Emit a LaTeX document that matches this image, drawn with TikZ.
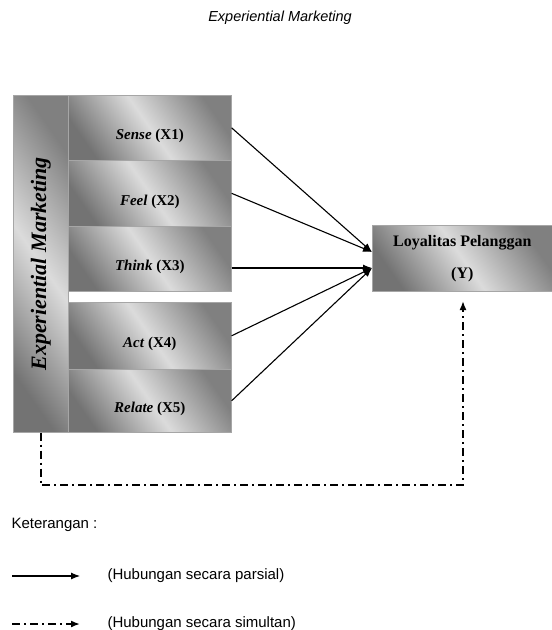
\documentclass[tikz,border=0pt]{standalone}
\usepackage{fontspec}
\setmainfont{Liberation Serif}
\newfontfamily\arialfont{Liberation Sans}
\usetikzlibrary{
    arrows.meta,
    positioning
}
\newcommand{\dimtext}[1]{\raisebox{-12pt}[0pt][0pt]{#1}}

\begin{document}
\begin{tikzpicture}[x=1pt, y=-1pt,
    shadebox/.style={draw=gray!70, line width=0.6pt, left color=black!55, right color=black!50,
        middle color=black!14, shading angle=125, inner sep=0pt, anchor=north west},
    dim/.style={shadebox, minimum width=163pt, font=\fontsize{15}{17}\selectfont\bfseries},
    parsial/.style={line width=1.1pt, -{Latex[length=9pt,width=7pt]}},
    simultan/.style={line width=1.7pt, dash pattern=on 8pt off 4pt on 2pt off 4pt,
        -{Latex[length=9pt,width=7pt]}},
    legendtext/.style={anchor=west, font=\arialfont\fontsize{15}{17}\selectfont}
]
    \useasboundingbox (0,0) rectangle (552,630);

    \node[font=\arialfont\itshape\fontsize{14.5}{16}\selectfont] (title) at (280,18) {Experiential Marketing};

    % variabel bebas
    \node[shadebox, minimum width=55pt, minimum height=337pt] (em) at (13,95) {};
    \node[rotate=90, font=\fontsize{22}{24}\selectfont\bfseries\itshape] (emtext) at (em.center) {Experiential Marketing};

    \node[dim, minimum height=65pt] (x1) at (68,95) {\dimtext{\textit{Sense} (X1)}};
    \node[dim, minimum height=66pt] (x2) at (68,160) {\dimtext{\textit{Feel} (X2)}};
    \node[dim, minimum height=65pt] (x3) at (68,226) {\dimtext{\textit{Think} (X3)}};
    \node[dim, minimum height=67pt] (x4) at (68,302) {\dimtext{\textit{Act} (X4)}};
    \node[dim, minimum height=63pt] (x5) at (68,369) {\dimtext{\textit{Relate} (X5)}};

    % variabel terikat
    \node[shadebox, minimum width=180pt, minimum height=66pt, align=center,
        font=\fontsize{16}{17}\selectfont\bfseries] (y) at (372,225) {Loyalitas Pelanggan\\[15pt](Y)};

    \coordinate (tipa) at (372,252);
    \coordinate (tipb) at (372,268);
    \coordinate (corner) at (463,485);
    \coordinate (tipy) at (463,301);

    \draw
    (x1.east) edge[parsial] (tipa)
    (x2.east) edge[parsial] (tipa)
    (x3.east |- tipb) edge[parsial] (tipb)
    (x4.east) edge[parsial] (tipb)
    (x5.east) edge[parsial] (tipb);

    \draw[simultan] (em.south) |- (corner) -- (tipy);

    % keterangan
    \node[legendtext] (ket) at (8,525) {Keterangan :};
    \coordinate (la) at (12,576);
    \coordinate (lb) at (80,576);
    \coordinate (lc) at (12,624);
    \coordinate (ld) at (80,624);
    \draw[parsial] (la) -- (lb);
    \draw[simultan] (lc) -- (ld);
    \node[legendtext] (parsialtext) at (104,576) {(Hubungan secara parsial)};
    \node[legendtext] (simultantext) at (104,624) {(Hubungan secara simultan)};
\end{tikzpicture}
\end{document}
